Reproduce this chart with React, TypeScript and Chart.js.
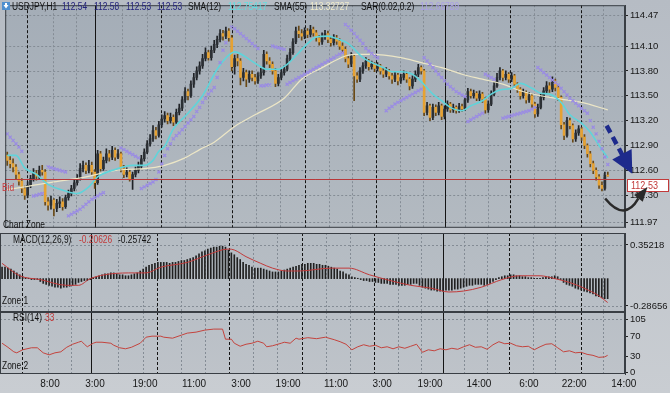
import React, { useEffect, useRef } from "react";
import { Chart, registerables } from "chart.js";

Chart.register(...registerables);

// ---------------- DATA ----------------
const opens = [
  112.78,112.72,112.68,112.64,112.55,112.47,112.38,112.30,112.42,112.50,
  112.56,112.53,112.60,112.58,112.22,112.18,112.24,112.14,112.20,112.22,
  112.16,112.27,112.32,112.38,112.45,112.50,112.62,112.66,112.60,112.66,
  112.58,112.45,112.80,112.62,112.72,112.80,112.76,112.84,112.76,112.80,
  112.62,112.55,112.58,112.50,112.55,112.60,112.65,112.74,112.82,112.92,
  112.98,113.08,113.02,113.15,113.22,113.26,113.20,113.24,113.18,113.30,
  113.35,113.45,113.55,113.50,113.64,113.72,113.80,113.86,113.95,114.02,
  113.96,114.05,114.12,114.18,114.25,114.22,114.28,114.20,113.85,113.95,
  113.92,113.72,113.78,113.70,113.76,113.72,113.68,113.74,113.78,114.00,
  113.92,113.88,113.80,113.65,113.72,113.78,113.82,113.95,114.02,114.15,
  114.28,114.25,114.22,114.28,114.24,114.30,114.26,114.20,114.15,114.22,
  114.25,114.18,114.14,114.20,114.16,114.10,114.06,113.95,113.88,113.98,
  113.74,113.70,113.80,113.86,113.92,113.85,113.88,113.83,113.86,113.80,
  113.76,113.80,113.74,113.70,113.75,113.68,113.72,113.76,113.70,113.62,
  113.70,113.76,113.84,113.80,113.30,113.38,113.24,113.36,113.30,113.38,
  113.25,113.34,113.40,113.33,113.36,113.32,113.37,113.34,113.45,113.55,
  113.50,113.53,113.47,113.52,113.46,113.33,113.40,113.52,113.62,113.72,
  113.80,113.72,113.76,113.70,113.74,113.64,113.58,113.50,113.54,113.45,
  113.50,113.40,113.28,113.36,113.48,113.56,113.62,113.58,113.68,113.60,
  113.48,113.15,113.02,113.20,113.14,112.98,113.05,113.10,113.00,112.90,
  112.80,112.68,112.60,112.52,112.42,112.38,112.54,
];
const highs = [
  112.82,112.77,112.74,112.67,112.58,112.50,112.41,112.46,112.54,112.62,
  112.60,112.65,112.66,112.61,112.27,112.29,112.26,112.25,112.28,112.26,
  112.30,112.36,112.42,112.48,112.55,112.68,112.71,112.69,112.72,112.70,
  112.61,112.84,112.83,112.76,112.86,112.84,112.89,112.87,112.85,112.82,
  112.66,112.63,112.61,112.58,112.64,112.70,112.78,112.86,112.96,113.03,
  113.14,113.12,113.19,113.27,113.31,113.29,113.29,113.27,113.34,113.40,
  113.49,113.60,113.58,113.68,113.77,113.85,113.91,114.00,114.08,114.05,
  114.10,114.17,114.22,114.30,114.29,114.33,114.31,114.23,113.99,114.00,
  113.95,113.83,113.81,113.80,113.80,113.76,113.78,113.83,114.05,114.03,
  113.96,113.91,113.83,113.76,113.82,113.86,113.99,114.07,114.19,114.33,
  114.34,114.30,114.32,114.31,114.35,114.33,114.29,114.23,114.26,114.29,
  114.28,114.21,114.24,114.23,114.19,114.14,114.09,113.98,114.02,114.00,
  113.78,113.84,113.90,113.96,113.94,113.92,113.90,113.90,113.88,113.83,
  113.84,113.82,113.77,113.79,113.77,113.76,113.80,113.78,113.72,113.74,
  113.80,113.88,113.86,113.82,113.42,113.40,113.40,113.39,113.42,113.40,
  113.38,113.44,113.42,113.40,113.38,113.41,113.40,113.49,113.59,113.58,
  113.57,113.55,113.56,113.54,113.48,113.44,113.56,113.66,113.77,113.84,
  113.82,113.80,113.78,113.78,113.76,113.66,113.60,113.58,113.56,113.54,
  113.52,113.42,113.40,113.52,113.60,113.67,113.66,113.73,113.70,113.62,
  113.50,113.18,113.24,113.23,113.16,113.09,113.14,113.12,113.03,112.92,
  112.83,112.71,112.63,112.55,112.46,112.58,112.58,
];
const lows = [
  112.66,112.63,112.58,112.50,112.42,112.33,112.25,112.27,112.39,112.47,
  112.48,112.50,112.54,112.18,112.12,112.13,112.05,112.10,112.15,112.12,
  112.14,112.24,112.29,112.35,112.42,112.48,112.58,112.56,112.57,112.55,
  112.38,112.43,112.59,112.60,112.69,112.71,112.73,112.72,112.74,112.58,
  112.51,112.52,112.47,112.37,112.52,112.57,112.62,112.71,112.80,112.89,
  112.95,112.98,113.00,113.12,113.18,113.16,113.17,113.14,113.16,113.27,
  113.32,113.42,113.45,113.48,113.60,113.69,113.76,113.83,113.92,113.93,
  113.93,114.02,114.08,114.15,114.17,114.19,114.16,113.80,113.76,113.86,
  113.63,113.68,113.61,113.66,113.68,113.64,113.65,113.71,113.75,113.88,
  113.84,113.76,113.61,113.62,113.69,113.75,113.80,113.92,114.00,114.13,
  114.20,114.17,114.19,114.20,114.21,114.22,114.16,114.11,114.12,114.18,
  114.14,114.10,114.11,114.12,114.06,114.02,113.91,113.84,113.85,113.44,
  113.66,113.67,113.77,113.83,113.81,113.82,113.79,113.80,113.76,113.72,
  113.73,113.70,113.65,113.67,113.63,113.65,113.69,113.66,113.57,113.59,
  113.67,113.73,113.76,113.26,113.27,113.20,113.21,113.26,113.27,113.21,
  113.22,113.31,113.30,113.30,113.29,113.30,113.31,113.32,113.42,113.47,
  113.47,113.44,113.44,113.42,113.29,113.30,113.38,113.50,113.60,113.69,
  113.68,113.69,113.66,113.67,113.61,113.54,113.46,113.47,113.41,113.42,
  113.36,113.24,113.25,113.34,113.45,113.53,113.54,113.55,113.56,113.44,
  113.10,112.97,113.00,113.10,112.94,112.95,113.02,112.96,112.86,112.76,
  112.64,112.56,112.48,112.38,112.35,112.36,112.53,
];
const closes = [
  112.72,112.68,112.64,112.55,112.47,112.38,112.30,112.42,112.50,112.56,
  112.53,112.60,112.58,112.22,112.18,112.24,112.14,112.20,112.22,112.16,
  112.27,112.32,112.38,112.45,112.50,112.62,112.66,112.60,112.66,112.58,
  112.45,112.80,112.62,112.72,112.80,112.76,112.84,112.76,112.80,112.62,
  112.55,112.58,112.50,112.55,112.60,112.65,112.74,112.82,112.92,112.98,
  113.08,113.02,113.15,113.22,113.26,113.20,113.24,113.18,113.30,113.35,
  113.45,113.55,113.50,113.64,113.72,113.80,113.86,113.95,114.02,113.96,
  114.05,114.12,114.18,114.25,114.22,114.28,114.20,113.85,113.95,113.92,
  113.72,113.78,113.70,113.76,113.72,113.68,113.74,113.78,114.00,113.92,
  113.88,113.80,113.65,113.72,113.78,113.82,113.95,114.02,114.15,114.28,
  114.25,114.22,114.28,114.24,114.30,114.26,114.20,114.15,114.22,114.25,
  114.18,114.14,114.20,114.16,114.10,114.06,113.95,113.88,113.98,113.74,
  113.70,113.80,113.86,113.92,113.85,113.88,113.83,113.86,113.80,113.76,
  113.80,113.74,113.70,113.75,113.68,113.72,113.76,113.70,113.62,113.70,
  113.76,113.84,113.80,113.30,113.38,113.24,113.36,113.30,113.38,113.25,
  113.34,113.40,113.33,113.36,113.32,113.37,113.34,113.45,113.55,113.50,
  113.53,113.47,113.52,113.46,113.33,113.40,113.52,113.62,113.72,113.80,
  113.72,113.76,113.70,113.74,113.64,113.58,113.50,113.54,113.45,113.50,
  113.40,113.28,113.36,113.48,113.56,113.62,113.58,113.68,113.60,113.48,
  113.15,113.02,113.20,113.14,112.98,113.05,113.10,113.00,112.90,112.80,
  112.68,112.60,112.52,112.42,112.38,112.54,112.53,
];

// SMA(12) (bar index, price)
const sma12Idx = [0,3,6,10,14,20,24,28,31,37,43,47,50,52,54,57,62,67,72,76,78,83,86,89,93,96,100,103,106,110,113,117,122,125,129,132,135,139,142,146,149,152,156,159,163,166,169,173,176,180,183,186,190,193,197,200,203,206];
const sma12Val = [112.78,112.78,112.63,112.55,112.43,112.35,112.32,112.40,112.52,112.61,112.66,112.66,112.72,112.83,112.89,113.10,113.29,113.50,113.82,113.99,114.03,113.94,113.87,113.82,113.82,113.88,114.02,114.13,114.21,114.22,114.19,114.13,113.96,113.90,113.84,113.79,113.79,113.76,113.67,113.52,113.44,113.36,113.32,113.38,113.44,113.52,113.57,113.59,113.65,113.59,113.53,113.52,113.42,113.27,113.17,113.06,112.90,112.75];

// SMA(55)
const sma55Idx = [0,6,16,27,33,40,47,54,61,66,71,78,85,95,101,108,116,119,125,135,142,149,156,163,170,176,183,190,197,206];
const sma55Val = [112.37,112.40,112.46,112.52,112.57,112.61,112.62,112.66,112.75,112.85,112.94,113.13,113.27,113.47,113.70,113.84,113.98,114.00,114.00,113.96,113.90,113.84,113.76,113.70,113.64,113.56,113.50,113.46,113.42,113.33];

// Parabolic SAR per bar (null = no mark)
const sarVal = [
  113.04,113.00,112.96,112.92,112.88,112.83,null,null,null,112.29,
  112.30,112.31,112.32,null,112.64,112.63,112.62,112.61,112.60,112.59,
  112.58,112.05,112.07,112.09,112.11,112.13,112.16,112.19,112.22,112.25,
  112.27,112.29,112.31,112.33,null,null,null,null,null,112.87,
  112.85,112.83,112.81,112.79,112.77,112.75,112.38,112.40,112.42,112.44,
  112.46,112.49,112.58,112.68,112.78,112.86,112.92,112.98,113.02,113.05,
  113.09,113.13,113.17,113.21,113.25,113.31,113.36,113.42,113.47,113.52,
  113.56,113.60,113.72,113.90,114.05,114.14,null,114.33,114.31,114.28,
  114.25,114.22,114.19,114.16,114.13,114.10,114.07,113.62,113.62,113.63,
  113.63,114.10,114.09,114.08,114.07,114.06,113.64,113.66,113.68,113.70,
  113.72,113.74,113.76,113.78,113.80,113.82,113.84,113.86,113.88,113.90,
  113.92,113.94,113.96,113.98,114.00,114.02,114.36,114.33,114.29,114.25,
  114.21,114.17,114.13,114.07,114.04,114.01,113.98,113.96,null,null,
  113.32,113.35,113.37,113.40,113.42,113.44,113.46,113.48,113.50,113.52,
  113.54,113.56,113.58,113.96,113.92,113.88,113.84,113.80,113.76,113.72,
  113.68,113.64,113.61,113.58,113.55,113.53,113.51,113.49,113.19,113.21,
  113.23,113.25,113.27,113.29,113.76,113.74,113.72,113.70,null,null,
  113.23,113.24,113.25,113.26,113.27,113.28,113.29,113.30,113.31,113.32,
  113.34,113.36,113.84,113.81,113.78,113.75,113.72,113.69,113.66,113.63,
  113.59,113.55,113.51,113.47,113.44,113.41,113.38,113.35,113.32,113.29,
  113.20,113.12,113.04,112.95,112.86,112.76,112.67,
];

// MACD main (histogram) per bar
const macdHist = [
  0.12,0.12,0.11,0.10,0.08,0.06,0.04,
  0.02,0.01,0.004,-0.01,-0.01,-0.01,
  -0.03,-0.05,-0.06,-0.07,-0.08,-0.09,-0.09,-0.10,-0.09,-0.09,
  -0.08,-0.07,-0.06,-0.04,-0.03,-0.02,-0.02,
  -0.01,0.01,0.02,0.03,0.04,0.05,0.05,0.06,0.06,0.05,0.04,0.04,0.03,0.03,0.04,0.05,0.06,0.08,0.10,
  0.12,0.14,0.15,0.16,0.17,
  0.17,0.17,0.17,0.16,0.17,0.17,0.18,0.19,0.19,0.20,
  0.21,0.22,0.24,0.26,0.28,0.29,0.31,0.32,0.33,
  0.33,0.34,0.34,0.33,0.30,
  0.27,0.25,0.22,0.20,0.17,0.15,0.14,0.12,0.11,
  0.11,0.11,0.10,0.09,0.08,0.07,0.07,0.07,0.08,0.09,0.10,0.11,
  0.12,0.13,0.14,0.15,0.15,0.16,0.16,0.16,0.15,0.15,0.14,0.14,0.13,0.12,
  0.11,0.10,0.08,0.07,0.05,0.04,0.02,0.01,0.004,-0.01,-0.02,-0.02,-0.03,
  -0.03,-0.04,-0.04,-0.05,-0.05,-0.05,-0.06,-0.06,-0.06,-0.07,-0.07,-0.07,-0.06,-0.06,-0.05,-0.05,-0.07,-0.09,-0.10,-0.11,
  -0.12,-0.12,-0.13,-0.13,-0.13,-0.12,-0.12,-0.12,-0.11,-0.11,-0.10,-0.09,-0.08,-0.07,-0.07,
  -0.06,-0.06,-0.06,-0.07,-0.06,-0.05,-0.03,-0.01,0.01,0.02,
  0.03,0.03,0.04,0.04,0.03,0.03,0.02,0.02,0.01,0.01,0.004,0.004,0.004,0.01,0.02,0.02,0.02,0.03,0.02,
  -0.01,-0.04,-0.06,-0.07,-0.08,-0.10,-0.11,-0.12,-0.13,-0.14,-0.15,-0.16,-0.18,-0.19,-0.20,-0.21,-0.21,
];
// MACD signal (red line)
const sigIdx = [0,6,13,22,26,30,37,45,49,54,63,70,77,79,83,88,92,97,101,112,118,125,132,139,146,152,157,163,170,176,183,188,193,198,203,206];
const sigVal = [0.16,0.03,-0.01,-0.07,-0.07,0.0,0.05,0.06,0.06,0.12,0.17,0.25,0.31,0.30,0.23,0.16,0.11,0.08,0.08,0.11,0.11,0.04,-0.02,-0.07,-0.10,-0.14,-0.13,-0.09,-0.01,0.03,0.03,0.0,-0.04,-0.10,-0.18,-0.25];

// RSI(14)
const rsiIdx = [0,2,4,5,7,10,12,14,16,18,20,22,24,26,27,28,29,31,32,34,37,38,40,42,44,47,49,51,54,55,58,61,63,66,69,72,75,76,78,79,81,83,85,87,89,90,92,95,96,98,100,101,104,107,110,113,115,117,119,121,123,125,127,129,131,133,135,137,139,141,143,145,147,149,151,153,155,157,159,161,163,165,167,169,171,173,175,177,179,181,183,185,187,189,191,193,195,197,199,201,203,205,206];
const rsiVal = [57,49,40,38,44,48,48,38,34,38,40,49,55,59,61,55,50,57,59,59,57,53,48,46,49,57,69,71,71,69,67,73,77,79,83,85,85,65,65,57,51,55,57,61,57,50,52,57,59,57,67,65,68,66,69,64,60,55,44,50,54,51,53,48,50,46,50,47,51,55,39,44,42,46,44,47,45,50,54,49,50,45,54,60,56,57,52,50,51,44,50,55,56,48,40,42,38,39,35,33,29,30,33];

// axes / ticks
const priceTicks = [114.47, 114.10, 113.80, 113.50, 113.20, 112.90, 112.60, 112.30, 111.97];
const macdTicks = [0.35218, -0.28656];
const rsiTicks = [105, 70, 30, 0];
const xLabels = ["8:00", "3:00", "19:00", "11:00", "3:00", "19:00", "11:00", "3:00", "19:00", "14:00", "6:00", "22:00", "14:00"];
const xLabelIdx = [16.3, 31.6, 48.6, 65.3, 81.3, 97.3, 113.6, 129.3, 145.6, 162.2, 179.2, 194.6, 211.5];
const sepIdx = [6.8, 30.25, 52.7, 77.2, 102.0, 126.5, 150.0, 172.4, 196.9];
const sepSolid = [false, true, false, false, false, false, true, false, false];
const gridIdx = [15.6, 23.5, 39.5, 48, 60.9, 69, 85.4, 93.5, 110.2, 118.4, 134.7, 142.5, 157, 165, 180.6, 188, 204.4];

const bidPrice = 112.5;
const bidLabel = "112.53";

// ---------------- STYLE ----------------
const FONT = "'Liberation Sans', Arial, sans-serif";
const X_MIN = -0.7;
const X_MAX = 211.9;
Chart.defaults.font.family = FONT;
Chart.defaults.font.size = 10;

function line(ctx: any, x1: number, y1: number, x2: number, y2: number) {
  ctx.beginPath();
  ctx.moveTo(x1, y1);
  ctx.lineTo(x2, y2);
  ctx.stroke();
}

// condensed canvas text (real text, narrowed like the terminal's font)
function drawText(ctx: any, text: string, x: number, y: number, color: string, size = 10, sx = 0.84) {
  ctx.save();
  ctx.translate(x, y);
  ctx.scale(sx, 1);
  ctx.font = `${size}px ${FONT}`;
  ctx.fillStyle = color;
  ctx.textBaseline = "alphabetic";
  ctx.textAlign = "left";
  ctx.fillText(text, 0, 0);
  ctx.restore();
}

function makeDecor(cfg: any) {
  return {
    id: "decor_" + cfg.name,
    beforeDraw(chart: any) {
      const { ctx, chartArea: a } = chart;
      ctx.save();
      const g = ctx.createLinearGradient(0, a.top, 0, a.bottom);
      g.addColorStop(0, cfg.bgTop);
      g.addColorStop(1, cfg.bgBottom);
      ctx.fillStyle = g;
      ctx.fillRect(a.left, a.top, a.right - a.left, a.bottom - a.top);
      ctx.restore();
    },
    beforeDatasetsDraw(chart: any) {
      const { ctx, chartArea: a } = chart;
      const xs = chart.scales.x;
      const ys = chart.scales.y;
      ctx.save();
      ctx.lineWidth = 1;
      ctx.strokeStyle = "#848c95";
      ctx.setLineDash([2, 2]);
      gridIdx.forEach((v) => {
        const px = Math.round(xs.getPixelForValue(v)) + 0.5;
        line(ctx, px, a.top, px, a.bottom);
      });
      cfg.hLines.forEach((v: number) => {
        const py = Math.round(ys.getPixelForValue(v)) + 0.5;
        line(ctx, a.left, py, a.right, py);
      });
      ctx.strokeStyle = "#141414";
      sepIdx.forEach((v, k) => {
        ctx.setLineDash(sepSolid[k] ? [] : [3, 2]);
        const px = Math.round(xs.getPixelForValue(v)) + 0.5;
        line(ctx, px, a.top, px, a.bottom);
      });
      ctx.restore();
    },
    afterDatasetsDraw(chart: any) {
      if (cfg.afterData) cfg.afterData(chart);
    },
    afterDraw(chart: any) {
      const { ctx, chartArea: a } = chart;
      ctx.save();
      ctx.setLineDash([]);
      ctx.strokeStyle = "#393e44";
      ctx.lineWidth = 1;
      ctx.strokeRect(a.left + 0.5, a.top + 0.5, a.right - a.left - 1, a.bottom - a.top - 1);
      cfg.texts.forEach((t: any) => drawText(ctx, t.text, t.x, t.y, t.color));
      if (cfg.after) cfg.after(chart);
      ctx.restore();
    },
  };
}

function yAxis(min: number, max: number, ticks: number[], fmt: (v: number) => string) {
  return {
    type: "linear",
    position: "right",
    min,
    max,
    afterBuildTicks: (s: any) => {
      s.ticks = ticks.map((v) => ({ value: v }));
    },
    afterFit: (s: any) => {
      s.width = 45;
      s.paddingTop = 0;
      s.paddingBottom = 0;
    },
    ticks: { callback: (v: any) => fmt(Number(v)), color: "#161616", padding: 2, font: { size: 9.5, family: FONT } },
    grid: { display: true, drawOnChartArea: false, drawTicks: true, tickLength: 3, tickColor: "#222", color: "#222" },
    border: { display: true, color: "#393e44" },
  };
}

const hiddenX = { type: "linear", min: X_MIN, max: X_MAX, display: false, offset: false, grid: { offset: false } };

const baseOptions = {
  responsive: false,
  maintainAspectRatio: false,
  animation: false,
  events: [],
  layout: { padding: 0 },
  plugins: { legend: { display: false }, tooltip: { enabled: false } },
};

function mainConfig(): any {
  const bull = closes.map((c, i) => c >= opens[i]);
  const wickData = highs.map((h, i) => ({ x: i, y: [lows[i], h] }));
  const bodyData = closes.map((c, i) => ({ x: i, y: [opens[i], c] }));
  const sma12 = sma12Idx.map((x, k) => ({ x, y: sma12Val[k] }));
  const sma55 = sma55Idx.map((x, k) => ({ x, y: sma55Val[k] }));
  const sar = sarVal.map((v, i) => ({ x: i, y: v }));
  const header = [
    { x: 12, text: "USDJPY,H1", color: "#111" },
    { x: 62, text: "112.54", color: "#24247c" },
    { x: 94, text: "112.58", color: "#24247c" },
    { x: 126, text: "112.53", color: "#24247c" },
    { x: 157, text: "112.53", color: "#24247c" },
    { x: 188, text: "SMA(12)", color: "#111" },
    { x: 228, text: "112.75417", color: "#5fdfe2" },
    { x: 274, text: "SMA(55)", color: "#111" },
    { x: 310, text: "113.32727", color: "#efeacb" },
    { x: 361, text: "SAR(0.02,0.2)", color: "#111" },
    { x: 420, text: "112.66789", color: "#a99fe6" },
  ].map((t) => ({ ...t, y: 9.5 }));
  const texts = [
    ...header,
    { x: 2, y: 191, text: "Bid", color: "#c8383a" },
    { x: 3, y: 228, text: "Chart Zone", color: "#111" },
  ];
  const decor = makeDecor({
    name: "main",
    bgTop: "#a4adb7",
    bgBottom: "#b3bac1",
    hLines: priceTicks,
    texts,
    afterData(chart: any) {
      const { ctx, chartArea: a } = chart;
      const y = Math.round(chart.scales.y.getPixelForValue(bidPrice)) + 0.5;
      ctx.save();
      ctx.strokeStyle = "#b8383a";
      ctx.lineWidth = 1;
      line(ctx, a.left, y, a.right, y);
      ctx.restore();
    },
    after(chart: any) {
      const { ctx } = chart;
      const xs = chart.scales.x;
      const ys = chart.scales.y;
      const P = (i: number, v: number) => [xs.getPixelForValue(i), ys.getPixelForValue(v)];
      // icon
      ctx.fillStyle = "#4f8fcf";
      ctx.fillRect(2, 2, 8, 8);
      ctx.fillStyle = "#fff";
      ctx.beginPath();
      ctx.moveTo(3.5, 5);
      ctx.lineTo(8.5, 5);
      ctx.lineTo(6, 8.5);
      ctx.closePath();
      ctx.fill();
      ctx.fillRect(5, 3, 2, 2.5);
      // bid label box
      const yb = Math.round(ys.getPixelForValue(bidPrice));
      ctx.fillStyle = "#ffffff";
      ctx.fillRect(627, yb, 42, 13);
      ctx.strokeStyle = "#c23a3a";
      ctx.lineWidth = 1;
      ctx.strokeRect(627.5, yb + 0.5, 41, 12);
      drawText(ctx, bidLabel, 631, yb + 10, "#c23a3a", 10.5, 0.86);
      // blue dashed arrow
      const [sx, sy] = P(205.6, 113.14);
      const [tx, ty] = P(214.4, 112.56);
      const ang = Math.atan2(ty - sy, tx - sx);
      const c = Math.cos(ang), s = Math.sin(ang);
      const hl = 22, hw = 11;
      const bx = tx - hl * c, by = ty - hl * s;
      ctx.strokeStyle = "#1d2a8c";
      ctx.lineWidth = 4.5;
      ctx.setLineDash([8, 5]);
      line(ctx, sx, sy, bx + 2 * c, by + 2 * s);
      ctx.setLineDash([]);
      ctx.fillStyle = "#1d2a8c";
      ctx.beginPath();
      ctx.moveTo(tx, ty);
      ctx.lineTo(bx - hw * s, by + hw * c);
      ctx.lineTo(bx + hw * s, by - hw * c);
      ctx.closePath();
      ctx.fill();
      // black curved arrow
      const [ax, ay] = P(205.1, 112.26);
      const [cx, cy] = P(211.8, 111.97);
      const [ex, ey] = P(216.5, 112.26);
      const [hx, hy] = P(219.6, 112.40);
      ctx.strokeStyle = "#2a2a2a";
      ctx.lineWidth = 2.5;
      ctx.beginPath();
      ctx.moveTo(ax, ay);
      ctx.quadraticCurveTo(cx, cy, ex, ey);
      ctx.stroke();
      const a2 = Math.atan2(hy - ey, hx - ex);
      const c2 = Math.cos(a2), s2 = Math.sin(a2);
      const bw = 5.5;
      ctx.fillStyle = "#2a2a2a";
      ctx.beginPath();
      ctx.moveTo(hx, hy);
      ctx.lineTo(ex - bw * s2, ey + bw * c2);
      ctx.lineTo(ex + bw * s2, ey - bw * c2);
      ctx.closePath();
      ctx.fill();
    },
  });
  return {
    type: "bar",
    data: {
      datasets: [
        {
          type: "bar",
          label: "wick",
          data: wickData,
          backgroundColor: bull.map((b) => (b ? "#1f2226" : "#6a4916")),
          barThickness: 1,
          grouped: false,
          order: 6,
        },
        {
          type: "bar",
          label: "body",
          data: bodyData,
          backgroundColor: bull.map((b) => (b ? "#2c3035" : "#e6a233")),
          barThickness: 2,
          minBarLength: 1,
          grouped: false,
          order: 5,
        },
        {
          type: "line",
          label: "SMA(55)",
          data: sma55,
          borderColor: "#ece6c6",
          borderWidth: 1.2,
          pointRadius: 0,
          cubicInterpolationMode: "monotone",
          order: 3,
        },
        {
          type: "line",
          label: "SMA(12)",
          data: sma12,
          borderColor: "#5fd4da",
          borderWidth: 1.6,
          pointRadius: 0,
          cubicInterpolationMode: "monotone",
          order: 2,
        },
        {
          type: "line",
          label: "SAR",
          data: sar,
          showLine: false,
          pointStyle: "crossRot",
          pointRadius: 2.2,
          pointBorderWidth: 1.2,
          pointBorderColor: "#9a8be4",
          pointBackgroundColor: "#9a8be4",
          order: 1,
        },
      ],
    },
    options: {
      ...baseOptions,
      scales: {
        x: hiddenX,
        y: yAxis(111.906, 114.5934, priceTicks, (v) => v.toFixed(2)),
      },
    },
    plugins: [decor],
  };
}

function macdConfig(): any {
  const decor = makeDecor({
    name: "macd",
    bgTop: "#b4bbc2",
    bgBottom: "#b9bfc6",
    hLines: macdTicks,
    texts: [
      { x: 13, y: 10, text: "MACD(12,26,9)", color: "#111" },
      { x: 79, y: 10, text: "-0.20626", color: "#c23a3a" },
      { x: 118, y: 10, text: "-0.25742", color: "#111" },
      { x: 2, y: 71, text: "Zone 1", color: "#111" },
    ],
  });
  return {
    type: "bar",
    data: {
      datasets: [
        {
          type: "line",
          label: "Signal",
          data: sigIdx.map((x, k) => ({ x, y: sigVal[k] })),
          borderColor: "#c23a3a",
          borderWidth: 1,
          pointRadius: 0,
          cubicInterpolationMode: "monotone",
          order: 0,
        },
        {
          type: "bar",
          label: "MACD",
          data: macdHist.map((v, i) => ({ x: i, y: v })),
          backgroundColor: "#202020",
          barThickness: 1,
          grouped: false,
          order: 1,
        },
      ],
    },
    options: {
      ...baseOptions,
      scales: {
        x: hiddenX,
        y: yAxis(-0.3494, 0.4778, macdTicks, (v) => v.toFixed(5)),
      },
    },
    plugins: [decor],
  };
}

function rsiConfig(): any {
  const decor = makeDecor({
    name: "rsi",
    bgTop: "#b9bfc6",
    bgBottom: "#bec3c9",
    hLines: [105],
    texts: [
      { x: 13, y: 8.5, text: "RSI(14)", color: "#111" },
      { x: 45, y: 8.5, text: "33", color: "#c23a3a" },
      { x: 2, y: 57, text: "Zone 2", color: "#111" },
    ],
  });
  return {
    type: "line",
    data: {
      datasets: [
        {
          label: "RSI(14)",
          data: rsiIdx.map((x, k) => ({ x, y: rsiVal[k] })),
          borderColor: "#c4443e",
          borderWidth: 1,
          pointRadius: 0,
          tension: 0,
        },
      ],
    },
    options: {
      ...baseOptions,
      scales: {
        x: {
          type: "linear",
          min: X_MIN,
          max: X_MAX,
          offset: false,
          afterBuildTicks: (s: any) => {
            s.ticks = xLabelIdx.map((v) => ({ value: v }));
          },
          afterFit: (s: any) => {
            s.height = 19;
            s.paddingLeft = 0;
            s.paddingRight = 0;
          },
          ticks: {
            autoSkip: false,
            maxRotation: 0,
            minRotation: 0,
            padding: 4,
            color: "#161616",
            font: { size: 10, family: FONT },
            callback: (_v: any, i: number) => xLabels[i],
          },
          grid: { display: false, drawTicks: false },
          border: { display: false },
        },
        y: yAxis(-3.95, 118.87, rsiTicks, (v) => String(Math.round(v))),
      },
    },
    plugins: [decor],
  };
}

export default function App() {
  const mainRef = useRef<HTMLCanvasElement>(null);
  const macdRef = useRef<HTMLCanvasElement>(null);
  const rsiRef = useRef<HTMLCanvasElement>(null);

  useEffect(() => {
    const charts = [
      new Chart(mainRef.current as HTMLCanvasElement, mainConfig()),
      new Chart(macdRef.current as HTMLCanvasElement, macdConfig()),
      new Chart(rsiRef.current as HTMLCanvasElement, rsiConfig()),
    ];
    return () => charts.forEach((c) => c.destroy());
  }, []);

  return (
    <div
      style={{
        position: "absolute",
        left: 0,
        top: 0,
        width: 670,
        height: 393,
        overflow: "hidden",
        background: "linear-gradient(#b6bcc4, #c9cdd2)",
      }}
    >
      <canvas ref={mainRef} width={670} height={233} style={{ position: "absolute", left: 0, top: 0 }} />
      <canvas ref={macdRef} width={670} height={79} style={{ position: "absolute", left: 0, top: 233 }} />
      <canvas ref={rsiRef} width={670} height={81} style={{ position: "absolute", left: 0, top: 312 }} />
    </div>
  );
}
